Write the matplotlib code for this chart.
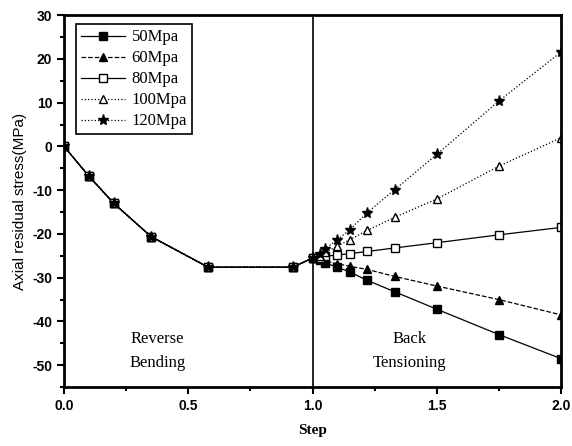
import matplotlib
matplotlib.use('Agg')
import matplotlib.pyplot as plt

plt.rcParams['axes.unicode_minus'] = False

# общий участок (обратный изгиб), одинаковый для всех кривых
x_bend = [0.0, 0.1, 0.2, 0.35, 0.58, 0.92, 1.0]
y_bend = [0.0, -6.8, -13.0, -20.6, -27.6, -27.6, -25.5]

# участок натяжения
x_tens = [1.03, 1.05, 1.1, 1.15, 1.22, 1.33, 1.5, 1.75, 2.0]
y_50 = [-26.0, -26.6, -27.6, -28.7, -30.6, -33.2, -37.2, -43.0, -48.5]
y_60 = [-25.8, -26.2, -26.8, -27.4, -28.1, -29.7, -31.9, -35.0, -38.5]
y_80 = [-25.4, -25.1, -24.8, -24.5, -24.0, -23.2, -22.0, -20.2, -18.5]
y_100 = [-25.0, -24.2, -22.8, -21.3, -19.2, -16.2, -12.0, -4.5, 2.0]
y_120 = [-24.6, -23.4, -21.3, -19.0, -15.1, -9.9, -1.8, 10.4, 21.6]

labels = ['50Mpa', '60Mpa', '80Mpa', '100Mpa', '120Mpa']
series = [y_50, y_60, y_80, y_100, y_120]
styles = [('s', '-', 'k'), ('^', '--', 'k'), ('s', '-', 'w'), ('^', ':', 'w'), ('*', ':', 'k')]

fig = plt.figure(figsize=(5.72, 4.46), dpi=100)
ax = fig.add_axes([0.112, 0.132, 0.869, 0.834])

for lab, ys, (m, ls, fc) in zip(labels, series, styles):
    ax.plot(x_bend + x_tens, y_bend + ys, linestyle=ls, color='k', lw=0.9,
            marker=m, markerfacecolor=fc, markeredgecolor='k',
            markersize=8 if m == '*' else 6, label=lab)

ax.axvline(1.0, color='k', lw=1.2)

ax.set_xlim(0, 2.0)
ax.set_ylim(-55, 30)
ax.xaxis.set_major_locator(plt.MultipleLocator(0.5))
ax.xaxis.set_minor_locator(plt.MultipleLocator(0.25))
ax.xaxis.set_major_formatter(plt.FormatStrFormatter('%.1f'))
ax.yaxis.set_major_locator(plt.MultipleLocator(10))
ax.yaxis.set_minor_locator(plt.MultipleLocator(5))
ax.tick_params(which='both', direction='out', top=False, right=False, width=1.5)
ax.tick_params(which='major', length=5)
ax.tick_params(which='minor', length=3)
for lbl in ax.get_xticklabels() + ax.get_yticklabels():
    lbl.set_fontfamily('Liberation Sans')
    lbl.set_fontweight('bold')
    lbl.set_fontsize(10)
for sp in ax.spines.values():
    sp.set_linewidth(2)

ax.set_xlabel('Step', fontfamily='Liberation Serif', fontweight='bold', fontsize=11, labelpad=8)
ax.set_ylabel('Axial residual stress(MPa)', fontfamily='Liberation Sans', fontsize=11)

ax.text(0.375, -43.9, 'Reverse', ha='center', va='center', fontfamily='Liberation Serif', fontsize=12)
ax.text(0.375, -49.4, 'Bending', ha='center', va='center', fontfamily='Liberation Serif', fontsize=12)
ax.text(1.39, -43.9, 'Back', ha='center', va='center', fontfamily='Liberation Serif', fontsize=12)
ax.text(1.39, -49.4, 'Tensioning', ha='center', va='center', fontfamily='Liberation Serif', fontsize=12)

leg = ax.legend(loc='upper left', bbox_to_anchor=(0.025, 0.975), borderaxespad=0,
                prop={'family': 'Liberation Serif', 'size': 12}, fancybox=False,
                edgecolor='k', framealpha=1, handlelength=2.6, labelspacing=0.3,
                handletextpad=0.4, borderpad=0.3)
leg.get_frame().set_linewidth(1.2)

plt.savefig('out.png', dpi=100)
